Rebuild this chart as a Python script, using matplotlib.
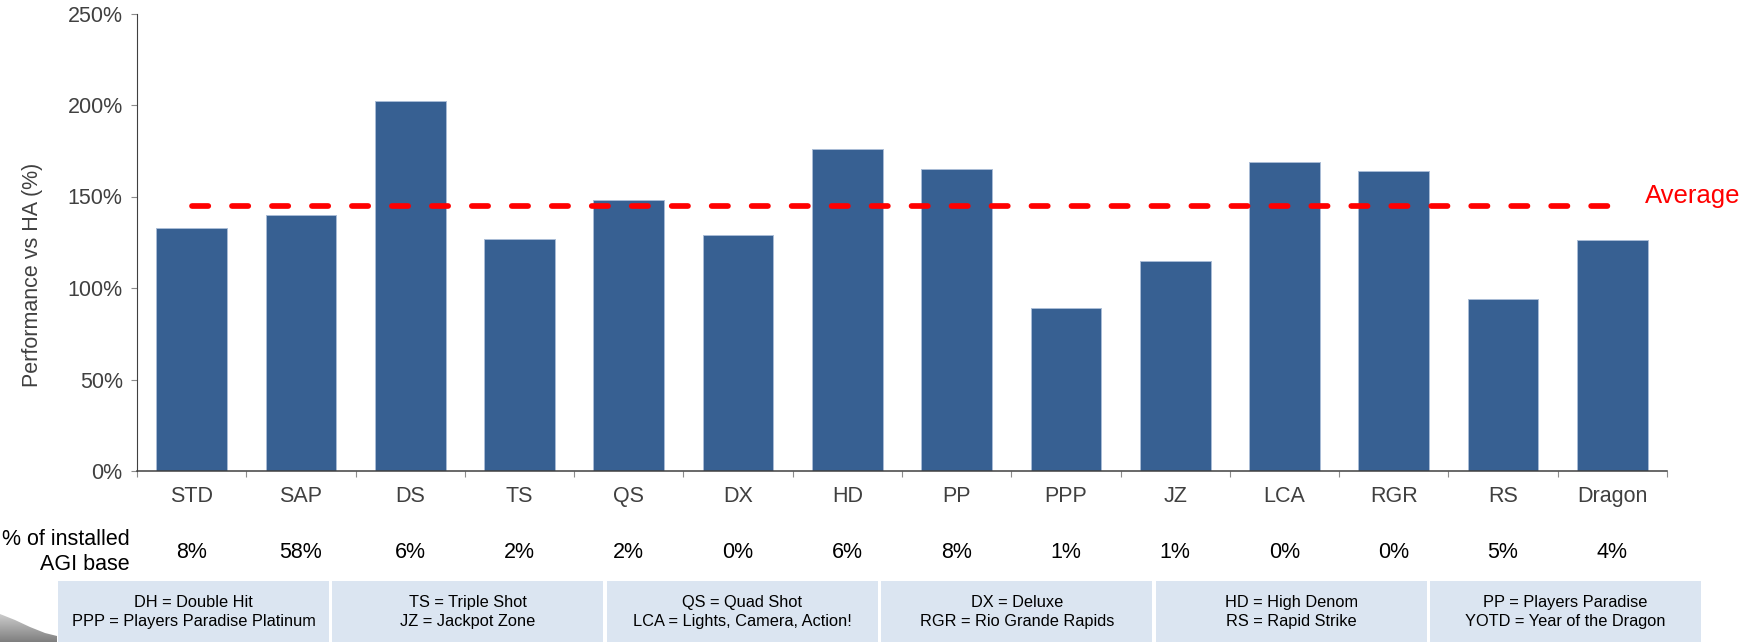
import matplotlib
matplotlib.use("Agg")
import matplotlib.pyplot as plt
import numpy as np
from matplotlib.patches import Rectangle, Polygon
from matplotlib.transforms import blended_transform_factory

plt.rcParams['font.family'] = ['Liberation Sans', 'DejaVu Sans']

# ---- data ----
categories = ["STD", "SAP", "DS", "TS", "QS", "DX", "HD", "PP", "PPP", "JZ", "LCA", "RGR", "RS", "Dragon"]
performance = [133, 140, 202, 127, 148, 129, 176, 165, 89, 115, 169, 164, 94, 126]
installed_share = ["8%", "58%", "6%", "2%", "2%", "0%", "6%", "8%", "1%", "1%", "0%", "0%", "5%", "4%"]
average_value = 145
y_ticks = [0, 50, 100, 150, 200, 250]
legend_boxes = [
    "DH = Double Hit\nPPP = Players Paradise Platinum",
    "TS = Triple Shot\nJZ = Jackpot Zone",
    "QS = Quad Shot\nLCA = Lights, Camera, Action!",
    "DX = Deluxe\nRGR = Rio Grande Rapids",
    "HD = High Denom\nRS = Rapid Strike",
    "PP = Players Paradise\nYOTD = Year of the Dragon",
]

W, H = 1740, 642
fig = plt.figure(figsize=(W / 100, H / 100), dpi=100)

def fx(px):
    return px / W

def fy(py):
    return 1 - py / H

ax_left, ax_right, ax_top, ax_bot = 137, 1667, 13.5, 471
ax = fig.add_axes([fx(ax_left), fy(ax_bot), fx(ax_right - ax_left), (ax_bot - ax_top) / H])

x = np.arange(len(categories))
ax.bar(x, performance, width=0.646, color="#376092", edgecolor="#a9bcd6", linewidth=0.7, zorder=2)

ax.plot([x[0], x[-1]], [average_value, average_value], color="#ff0000", linewidth=4.1,
        dashes=(2.86, 4.16), dash_capstyle="round", solid_capstyle="round", zorder=3)

ax.set_xlim(-0.5, len(categories) - 0.5)
ax.set_ylim(0, 250)
ax.set_yticks(y_ticks)
ax.set_yticklabels([f"{v}%" for v in y_ticks], fontsize=15.5, color="#404040")
ax.set_xticks(x)
ax.set_xticklabels(categories, fontsize=15.5, color="#404040")
ax.set_xticks(np.arange(len(categories) + 1) - 0.5, minor=True)
ax.tick_params(axis="x", which="major", length=0, pad=11)
ax.tick_params(axis="x", which="minor", length=4.3, direction="out", color="#8c8c8c", width=0.8)
ax.tick_params(axis="y", length=4.3, direction="out", color="#8c8c8c", width=0.8, pad=6)

for s in ["top", "right"]:
    ax.spines[s].set_visible(False)
ax.spines["left"].set_color("#404040")
ax.spines["left"].set_linewidth(0.8)
ax.spines["bottom"].set_color("#404040")
ax.spines["bottom"].set_linewidth(1.1)

# average label
ax.text(1.0, average_value + 5, "Average", transform=blended_transform_factory(fig.transFigure, ax.transData),
        fontsize=18.5, color="#ff0000", ha="right", va="center")

# y label
fig.text(fx(33), fy(275), "Performance vs HA (%)", rotation=90, fontsize=15.5, color="#404040",
         ha="center", va="center")

# installed base row
trans = blended_transform_factory(ax.transData, fig.transFigure)
for xi, s in zip(x, installed_share):
    ax.text(xi, fy(553), s, transform=trans, fontsize=15.5, color="black", ha="center", va="center")
fig.text(fx(130), fy(552), "% of installed\nAGI base", fontsize=15.5, color="black",
         ha="right", va="center", multialignment="right", linespacing=1.22)

# legend boxes
box_w, box_step, box_x0 = 271, 274.4, 58
box_top, box_bottom = 581, 642
for i, txt in enumerate(legend_boxes):
    x0 = box_x0 + i * box_step
    fig.patches.append(Rectangle((fx(x0), fy(box_bottom)), fx(box_w), (box_bottom - box_top) / H,
                                 transform=fig.transFigure, facecolor="#dbe5f1", edgecolor="none"))
    fig.text(fx(x0 + box_w / 2), fy((box_top + box_bottom) / 2 + 0.5), txt, fontsize=11.8, color="black",
             ha="center", va="center", linespacing=1.38)

# gray swoosh bottom-left
pts = [(0, 614), (15, 620), (30, 627), (45, 633), (57, 636), (57, 642), (0, 642)]
grad = np.linspace(0, 1, 64).reshape(-1, 1)
img_ax = fig.add_axes([0, 0, 1, 1], zorder=-1)
img_ax.set_axis_off()
img_ax.set_xlim(0, 1)
img_ax.set_ylim(0, 1)
im = img_ax.imshow(grad, cmap=matplotlib.colors.LinearSegmentedColormap.from_list("g", ["#cfcfcf", "#7f7f7f"]),
                   extent=[0, fx(57), fy(642), fy(614)], aspect="auto", origin="upper")
clip = Polygon([(fx(px), fy(py)) for px, py in pts], closed=True, transform=img_ax.transData)
im.set_clip_path(clip)

fig.savefig("out.png", dpi=100)
